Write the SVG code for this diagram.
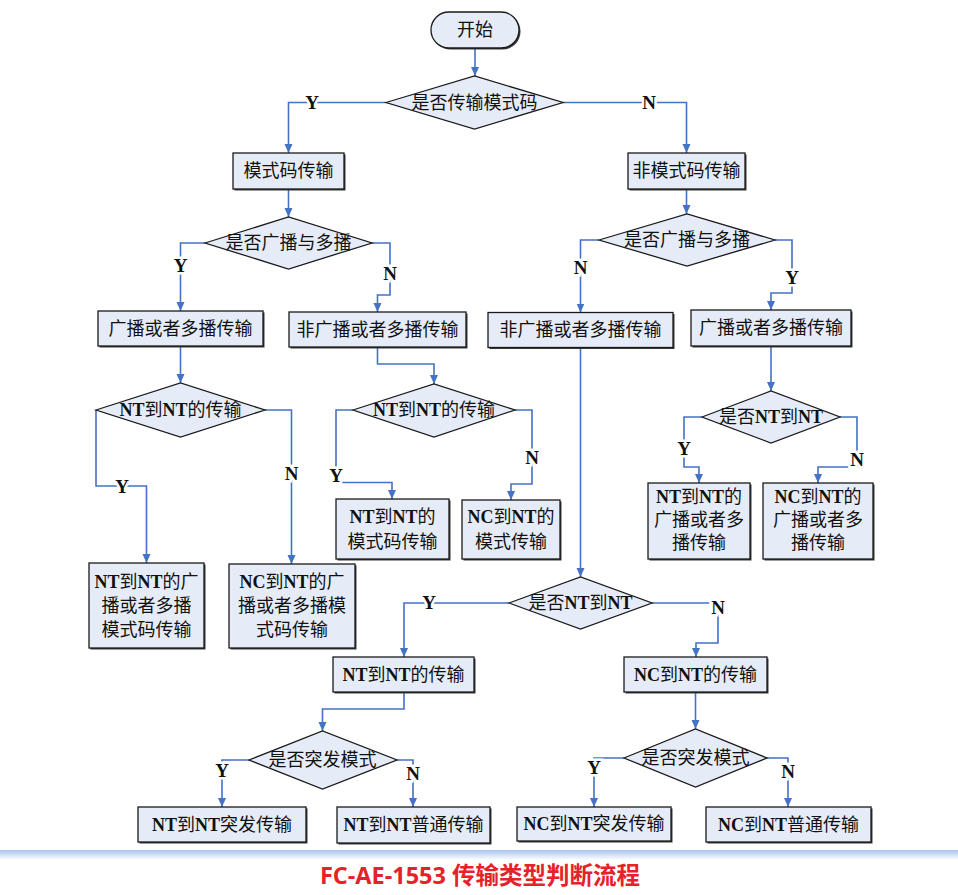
<svg xmlns="http://www.w3.org/2000/svg" width="958" height="895" viewBox="0 0 958 895">
<style>
.n{fill:#e6ecf7;stroke:#1a1a1a;stroke-width:1.3}
.sh{fill:#3a3a3a}
.t{font-family:"Liberation Serif","Noto Sans CJK SC",serif;font-size:18px;text-anchor:middle;dominant-baseline:central;fill:#111}
.b{font-weight:bold}
.c{fill:none;stroke:#4472c4;stroke-width:1.6}
.a{marker-end:url(#ah)}
.l{font-family:"Liberation Serif",serif;font-weight:bold;font-size:19px;text-anchor:middle;dominant-baseline:central;fill:#111;stroke:#fff;stroke-width:5;paint-order:stroke}
.cap{font-family:"Open Sans","Noto Sans CJK SC",sans-serif;font-weight:bold;font-size:23.5px;text-anchor:middle;fill:#e62129}
</style>
<defs>
<marker id="ah" markerUnits="userSpaceOnUse" markerWidth="10" markerHeight="10" refX="9" refY="5" orient="auto">
<path d="M0,1 L9,5 L0,9 Z" fill="#4472c4"/>
</marker>
<linearGradient id="band" x1="0" y1="0" x2="0" y2="1">
<stop offset="0" stop-color="#a8c4ee"/>
<stop offset="1" stop-color="#ffffff"/>
</linearGradient>
</defs>
<rect x="0" y="0" width="958" height="895" fill="#fff"/>

<g id="connectors">
<path class="c a" d="M475,48 V76"/>
<path class="c a" d="M386,102.5 H288.5 V153"/>
<path class="c a" d="M563,102.5 H686.5 V153"/>
<path class="c a" d="M288.5,189 V217"/>
<path class="c a" d="M686.5,189 V214"/>
<path class="c a" d="M205,243 H180.5 V311"/>
<path class="c a" d="M372,243 H390 V295 H377.5 V312"/>
<path class="c a" d="M599,240 H580.5 V312.5"/>
<path class="c a" d="M775,240 H792 V293 H771 V310"/>
<path class="c a" d="M180.5,346 V383"/>
<path class="c a" d="M377.5,347 V364 H434 V384"/>
<path class="c a" d="M771,346 V391"/>
<path class="c a" d="M580.5,347.5 V577"/>
<path class="c a" d="M96,410 V486 H146.5 V563"/>
<path class="c a" d="M265,410 H291.5 V564"/>
<path class="c a" d="M353,410 H336 V482.5 H392 V499"/>
<path class="c a" d="M515,410 H532 V484 H511 V500"/>
<path class="c a" d="M702,417 H684 V467 H699 V483"/>
<path class="c a" d="M840,417 H857 V467 H818 V483"/>
<path class="c a" d="M509,603 H404 V657"/>
<path class="c a" d="M652,603 H718 V643 H696 V657"/>
<path class="c a" d="M404,692 V709 H322.5 V731"/>
<path class="c a" d="M695.5,692 V729"/>
<path class="c a" d="M249,760 H222 V807"/>
<path class="c a" d="M397,760 H413 V807"/>
<path class="c a" d="M624,758 H594 V807"/>
<path class="c a" d="M767,758 H788 V807"/>
<text class="l" x="312" y="102.5">Y</text>
<text class="l" x="649" y="102.5">N</text>
<text class="l" x="180.5" y="265">Y</text>
<text class="l" x="390" y="273">N</text>
<text class="l" x="580.5" y="267">N</text>
<text class="l" x="792" y="277">Y</text>
<text class="l" x="122" y="486">Y</text>
<text class="l" x="291.5" y="473">N</text>
<text class="l" x="336" y="475">Y</text>
<text class="l" x="532" y="457">N</text>
<text class="l" x="684" y="448">Y</text>
<text class="l" x="857" y="459">N</text>
<text class="l" x="429" y="602">Y</text>
<text class="l" x="718" y="607">N</text>
<text class="l" x="222" y="770">Y</text>
<text class="l" x="413" y="773">N</text>
<text class="l" x="594" y="767">Y</text>
<text class="l" x="788" y="771">N</text>
</g>

<g id="start">
<rect class="sh" x="432.5" y="13.5" width="88" height="36" rx="18"/>
<rect class="n" x="431" y="12" width="88" height="36" rx="18"/>
<text class="t" x="475" y="30">开始</text>
</g>

<g id="d1">
<polygon class="n" points="386,102.5 474.5,76 563,102.5 474.5,129"/>
<text class="t" x="474.5" y="102.5">是否传输模式码</text>
</g>

<g id="b1">
<rect class="sh" x="234.5" y="154.5" width="111" height="36"/>
<rect class="n" x="233" y="153" width="111" height="36"/>
<text class="t" x="288.5" y="171">模式码传输</text>
</g>

<g id="b2">
<rect class="sh" x="629.5" y="154.5" width="117" height="36"/>
<rect class="n" x="628" y="153" width="117" height="36"/>
<text class="t" x="686.5" y="171">非模式码传输</text>
</g>

<g id="d2">
<polygon class="n" points="205,243 288.5,217 372,243 288.5,269"/>
<text class="t" x="288.5" y="243">是否广播与多播</text>
</g>

<g id="d3">
<polygon class="n" points="599,240 687,214 775,240 687,266"/>
<text class="t" x="687" y="240">是否广播与多播</text>
</g>

<g id="b3">
<rect class="sh" x="99.5" y="312.5" width="165" height="35"/>
<rect class="n" x="98" y="311" width="165" height="35"/>
<text class="t" x="180.5" y="328.5">广播或者多播传输</text>
</g>

<g id="b4">
<rect class="sh" x="290.5" y="313.5" width="177" height="35"/>
<rect class="n" x="289" y="312" width="177" height="35"/>
<text class="t" x="377.5" y="329.5">非广播或者多播传输</text>
</g>

<g id="b5">
<rect class="sh" x="489.5" y="314" width="185" height="35"/>
<rect class="n" x="488" y="312.5" width="185" height="35"/>
<text class="t" x="580.5" y="330">非广播或者多播传输</text>
</g>

<g id="b6">
<rect class="sh" x="692.5" y="311.5" width="160" height="36"/>
<rect class="n" x="691" y="310" width="160" height="36"/>
<text class="t" x="771" y="328">广播或者多播传输</text>
</g>

<g id="d4">
<polygon class="n" points="96,410 180.5,383 265,410 180.5,437"/>
<text class="t" x="180.5" y="410"><tspan class="b">NT</tspan>到<tspan class="b">NT</tspan>的传输</text>
</g>

<g id="d5">
<polygon class="n" points="353,410 434,384 515,410 434,437"/>
<text class="t" x="434" y="410"><tspan class="b">NT</tspan>到<tspan class="b">NT</tspan>的传输</text>
</g>

<g id="d6">
<polygon class="n" points="702,417 771,391 840,417 771,443"/>
<text class="t" x="771" y="417">是否<tspan class="b">NT</tspan>到<tspan class="b">NT</tspan></text>
</g>

<g id="b7">
<rect class="sh" x="90.5" y="564.5" width="115" height="85"/>
<rect class="n" x="89" y="563" width="115" height="85"/>
<text class="t" x="146.5" y="582"><tspan class="b">NT</tspan>到<tspan class="b">NT</tspan>的广</text>
<text class="t" x="146.5" y="606">播或者多播</text>
<text class="t" x="146.5" y="630">模式码传输</text>
</g>

<g id="b8">
<rect class="sh" x="230.5" y="565.5" width="126" height="84"/>
<rect class="n" x="229" y="564" width="126" height="84"/>
<text class="t" x="292" y="582"><tspan class="b">NC</tspan>到<tspan class="b">NT</tspan>的广</text>
<text class="t" x="292" y="606">播或者多播模</text>
<text class="t" x="292" y="630">式码传输</text>
</g>

<g id="b9">
<rect class="sh" x="337.5" y="500.5" width="113" height="60"/>
<rect class="n" x="336" y="499" width="113" height="60"/>
<text class="t" x="392.5" y="517"><tspan class="b">NT</tspan>到<tspan class="b">NT</tspan>的</text>
<text class="t" x="392.5" y="542">模式码传输</text>
</g>

<g id="b10">
<rect class="sh" x="463.5" y="501.5" width="98" height="59"/>
<rect class="n" x="462" y="500" width="98" height="59"/>
<text class="t" x="511" y="517"><tspan class="b">NC</tspan>到<tspan class="b">NT</tspan>的</text>
<text class="t" x="511" y="542">模式传输</text>
</g>

<g id="b11">
<rect class="sh" x="649.5" y="484.5" width="102" height="76"/>
<rect class="n" x="648" y="483" width="102" height="76"/>
<text class="t" x="699" y="497"><tspan class="b">NT</tspan>到<tspan class="b">NT</tspan>的</text>
<text class="t" x="699" y="520">广播或者多</text>
<text class="t" x="699" y="543">播传输</text>
</g>

<g id="b12">
<rect class="sh" x="764.5" y="484.5" width="110" height="76"/>
<rect class="n" x="763" y="483" width="110" height="76"/>
<text class="t" x="818" y="497"><tspan class="b">NC</tspan>到<tspan class="b">NT</tspan>的</text>
<text class="t" x="818" y="520">广播或者多</text>
<text class="t" x="818" y="543">播传输</text>
</g>

<g id="d7">
<polygon class="n" points="509,603 580.5,577 652,603 580.5,629"/>
<text class="t" x="580.5" y="603">是否<tspan class="b">NT</tspan>到<tspan class="b">NT</tspan></text>
</g>

<g id="b13">
<rect class="sh" x="334.5" y="658.5" width="141" height="35"/>
<rect class="n" x="333" y="657" width="141" height="35"/>
<text class="t" x="403.5" y="674.5"><tspan class="b">NT</tspan>到<tspan class="b">NT</tspan>的传输</text>
</g>

<g id="b14">
<rect class="sh" x="625.5" y="658.5" width="143" height="35"/>
<rect class="n" x="624" y="657" width="143" height="35"/>
<text class="t" x="695.5" y="674.5"><tspan class="b">NC</tspan>到<tspan class="b">NT</tspan>的传输</text>
</g>

<g id="d8">
<polygon class="n" points="249,760 322.5,731 397,760 322.5,789"/>
<text class="t" x="322.5" y="760">是否突发模式</text>
</g>

<g id="d9">
<polygon class="n" points="624,758 695.5,729 767,758 695.5,787"/>
<text class="t" x="695.5" y="758">是否突发模式</text>
</g>

<g id="b15">
<rect class="sh" x="139.5" y="808.5" width="168" height="35"/>
<rect class="n" x="138" y="807" width="168" height="35"/>
<text class="t" x="222" y="824.5"><tspan class="b">NT</tspan>到<tspan class="b">NT</tspan>突发传输</text>
</g>

<g id="b16">
<rect class="sh" x="338.5" y="808.5" width="153" height="36"/>
<rect class="n" x="337" y="807" width="153" height="36"/>
<text class="t" x="413.5" y="825"><tspan class="b">NT</tspan>到<tspan class="b">NT</tspan>普通传输</text>
</g>

<g id="b17">
<rect class="sh" x="518.5" y="808.5" width="154" height="34"/>
<rect class="n" x="517" y="807" width="154" height="34"/>
<text class="t" x="594" y="824"><tspan class="b">NC</tspan>到<tspan class="b">NT</tspan>突发传输</text>
</g>

<g id="b18">
<rect class="sh" x="707.5" y="808.5" width="165" height="35"/>
<rect class="n" x="706" y="807" width="165" height="35"/>
<text class="t" x="788.5" y="824.5"><tspan class="b">NC</tspan>到<tspan class="b">NT</tspan>普通传输</text>
</g>

<g id="caption">
<rect x="0" y="850" width="958" height="10" fill="url(#band)"/>
<text class="cap" x="480" y="884">FC-AE-1553 传输类型判断流程</text>
</g>
</svg>
